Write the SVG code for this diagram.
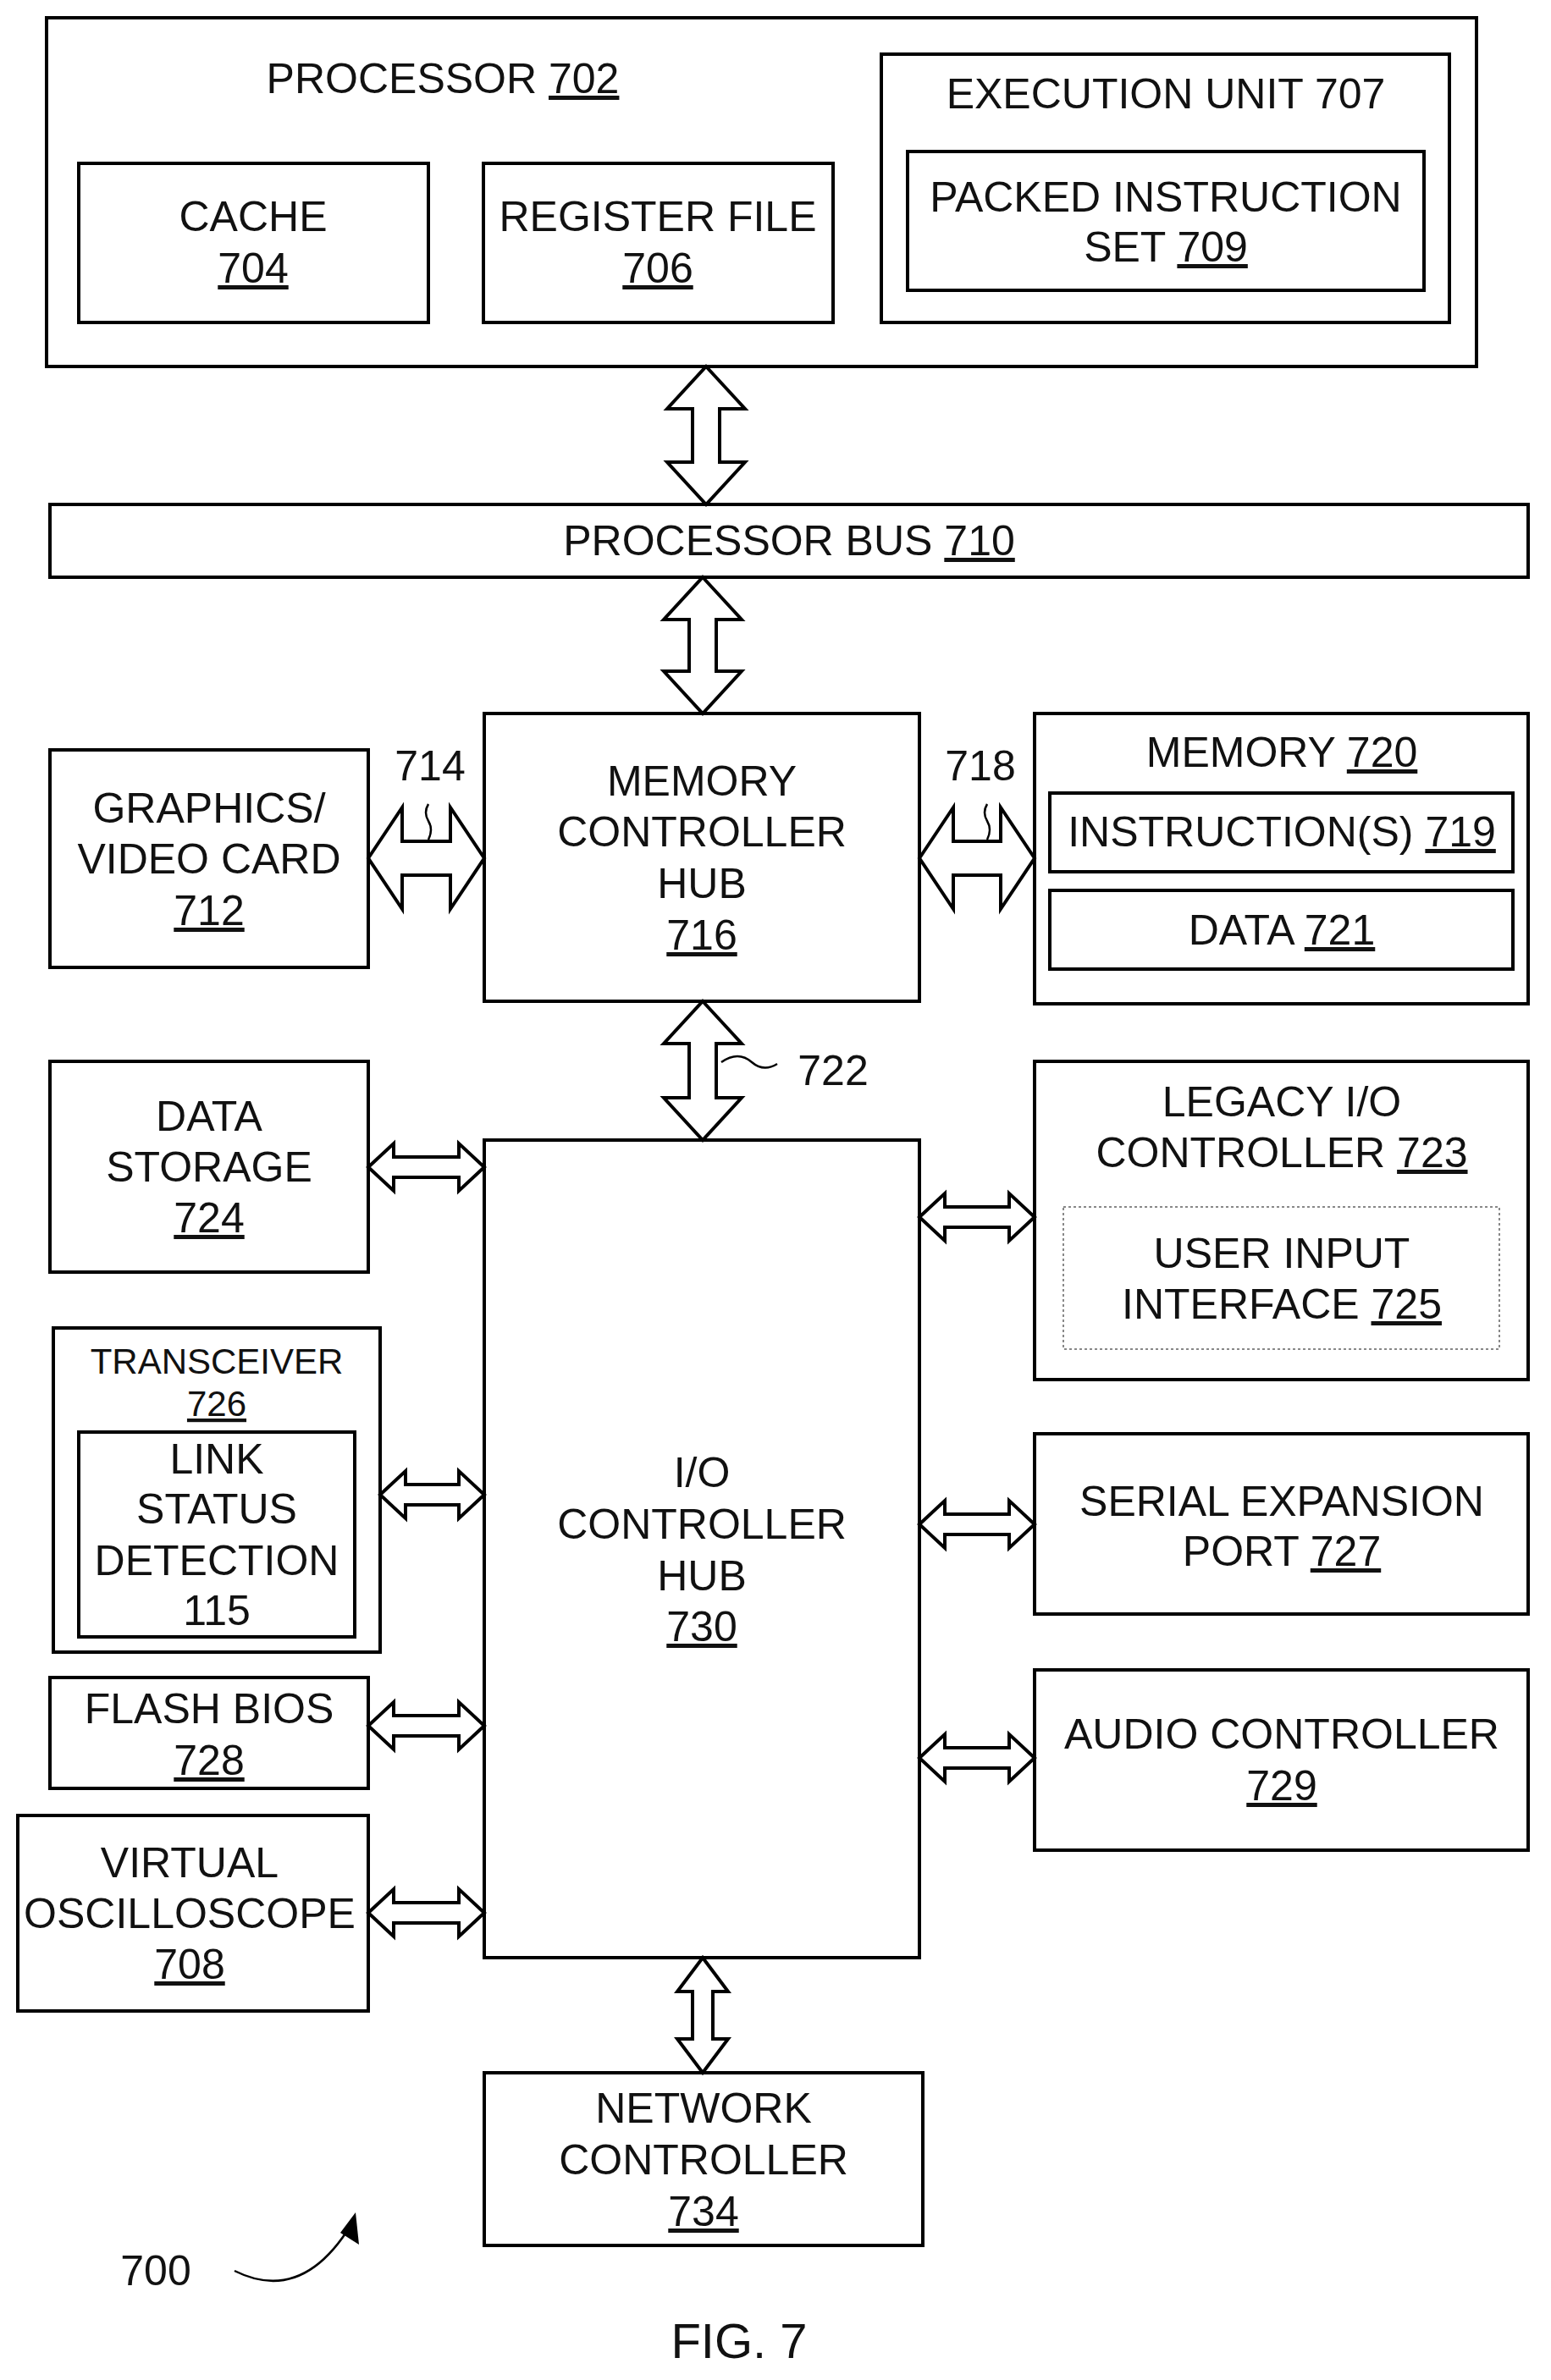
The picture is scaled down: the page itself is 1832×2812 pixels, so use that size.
<svg xmlns="http://www.w3.org/2000/svg" width="1832" height="2812" viewBox="0 0 1832 2812">
<style>
rect{fill:#fff;stroke:#000;stroke-width:4}
.dot{stroke:#888;stroke-width:2;stroke-dasharray:3 3}
text{font-family:"Liberation Sans",Arial,sans-serif;font-size:50px;text-anchor:middle;fill:#111}
.sm{font-size:42px}
.u{text-decoration:underline}
.ar{fill:#fff;stroke:#000;stroke-width:4;stroke-linejoin:miter}
.ln{fill:none;stroke:#000;stroke-width:2.5}
</style>
<rect width="1832" height="2812" style="fill:#fff;stroke:none"/>
<g id="processor"><rect x="55" y="21" width="1689" height="412"/><text x="523" y="110">PROCESSOR <tspan class="u">702</tspan></text></g>
<g id="cache"><rect x="93" y="193" width="413" height="188"/><text x="299" y="273">CACHE</text><text x="299" y="334" class="u">704</text></g>
<g id="regfile"><rect x="571" y="193" width="413" height="188"/><text x="777" y="273">REGISTER FILE</text><text x="777" y="334" class="u">706</text></g>
<g id="exec"><rect x="1041" y="64" width="671" height="317"/><text x="1377" y="128">EXECUTION UNIT 707</text></g>
<g id="packed"><rect x="1072" y="179" width="610" height="164"/><text x="1377" y="250">PACKED INSTRUCTION</text><text x="1377" y="309">SET <tspan class="u">709</tspan></text></g>
<g id="bus"><rect x="59" y="596" width="1746" height="86"/><text x="932" y="656">PROCESSOR BUS <tspan class="u">710</tspan></text></g>
<g id="mch"><rect x="572" y="843" width="514" height="340"/><text x="829" y="940">MEMORY</text><text x="829" y="1000">CONTROLLER</text><text x="829" y="1061">HUB</text><text x="829" y="1122" class="u">716</text></g>
<g id="graphics"><rect x="59" y="886" width="376" height="257"/><text x="247" y="972">GRAPHICS/</text><text x="247" y="1032">VIDEO CARD</text><text x="247" y="1093" class="u">712</text></g>
<g id="memory"><rect x="1222" y="843" width="583" height="343"/><text x="1514" y="906">MEMORY <tspan class="u">720</tspan></text></g>
<g id="instr"><rect x="1240" y="937" width="547" height="93"/><text x="1514" y="1000">INSTRUCTION(S) <tspan class="u">719</tspan></text></g>
<g id="data"><rect x="1240" y="1052" width="547" height="93"/><text x="1514" y="1116">DATA <tspan class="u">721</tspan></text></g>
<g id="ioch"><rect x="572" y="1347" width="514" height="966"/><text x="829" y="1757">I/O</text><text x="829" y="1818">CONTROLLER</text><text x="829" y="1879">HUB</text><text x="829" y="1939" class="u">730</text></g>
<g id="datastorage"><rect x="59" y="1254" width="376" height="249"/><text x="247" y="1336">DATA</text><text x="247" y="1396">STORAGE</text><text x="247" y="1456" class="u">724</text></g>
<g id="legacy"><rect x="1222" y="1254" width="583" height="376"/><text x="1514" y="1319">LEGACY I/O</text><text x="1514" y="1379">CONTROLLER <tspan class="u">723</tspan></text></g>
<g id="userinput"><rect x="1256" y="1426" width="515" height="168" class="dot"/><text x="1514" y="1498">USER INPUT</text><text x="1514" y="1558">INTERFACE <tspan class="u">725</tspan></text></g>
<g id="transceiver"><rect x="63" y="1569" width="386" height="383"/><text x="256" y="1623" class="sm">TRANSCEIVER</text><text x="256" y="1673" class="sm u">726</text></g>
<g id="link"><rect x="93" y="1692" width="326" height="242"/><text x="256" y="1741">LINK</text><text x="256" y="1800">STATUS</text><text x="256" y="1861">DETECTION</text><text x="256" y="1920">115</text></g>
<g id="serial"><rect x="1222" y="1694" width="583" height="213"/><text x="1514" y="1791">SERIAL EXPANSION</text><text x="1514" y="1850">PORT <tspan class="u">727</tspan></text></g>
<g id="flash"><rect x="59" y="1982" width="376" height="131"/><text x="247" y="2036">FLASH BIOS</text><text x="247" y="2097" class="u">728</text></g>
<g id="audio"><rect x="1222" y="1973" width="583" height="213"/><text x="1514" y="2066">AUDIO CONTROLLER</text><text x="1514" y="2127" class="u">729</text></g>
<g id="virtual"><rect x="21" y="2145" width="414" height="231"/><text x="224" y="2218">VIRTUAL</text><text x="224" y="2278">OSCILLOSCOPE</text><text x="224" y="2338" class="u">708</text></g>
<g id="network"><rect x="572" y="2449" width="518" height="204"/><text x="831" y="2508">NETWORK</text><text x="831" y="2569">CONTROLLER</text><text x="831" y="2630" class="u">734</text></g>
<g id="connectors">
<polygon class="ar" points="834,433 880,483 850,483 850,546 880,546 834,596 788,546 818,546 818,483 788,483"/>
<polygon class="ar" points="830,682 876,732 846,732 846,793 876,793 830,843 784,793 814,793 814,732 784,732"/>
<polygon class="ar" points="830,1183 876,1233 846,1233 846,1297 876,1297 830,1347 784,1297 814,1297 814,1233 784,1233"/>
<polygon class="ar" points="830,2313 860,2353 842,2353 842,2409 860,2409 830,2449 800,2409 818,2409 818,2353 800,2353"/>
<polygon class="ar" points="435,1014 475,954 475,994 532,994 532,954 572,1014 532,1074 532,1034 475,1034 475,1074"/>
<polygon class="ar" points="1086,1014 1126,954 1126,994 1182,994 1182,954 1222,1014 1182,1074 1182,1034 1126,1034 1126,1074"/>
<polygon class="ar" points="435,1379 465,1351 465,1367 542,1367 542,1351 572,1379 542,1407 542,1391 465,1391 465,1407"/>
<polygon class="ar" points="449,1766 479,1738 479,1754 542,1754 542,1738 572,1766 542,1794 542,1778 479,1778 479,1794"/>
<polygon class="ar" points="435,2039 465,2011 465,2027 542,2027 542,2011 572,2039 542,2067 542,2051 465,2051 465,2067"/>
<polygon class="ar" points="435,2260 465,2232 465,2248 542,2248 542,2232 572,2260 542,2288 542,2272 465,2272 465,2288"/>
<polygon class="ar" points="1086,1438 1116,1410 1116,1426 1192,1426 1192,1410 1222,1438 1192,1466 1192,1450 1116,1450 1116,1466"/>
<polygon class="ar" points="1086,1801 1116,1773 1116,1789 1192,1789 1192,1773 1222,1801 1192,1829 1192,1813 1116,1813 1116,1829"/>
<polygon class="ar" points="1086,2077 1116,2049 1116,2065 1192,2065 1192,2049 1222,2077 1192,2105 1192,2089 1116,2089 1116,2105"/>
<path class="ln" d="M506,950 q-6,10 0,20 q6,10 0,22"/>
<path class="ln" d="M1166,950 q-6,10 0,20 q6,10 0,22"/>
<path class="ln" d="M852,1255 q20,-14 36,0 q14,12 30,2"/>
<path class="ln" d="M277,2683 q80,40 138,-55"/>
<polygon points="420,2614 424,2652 402,2638" fill="#000"/>
</g>
<text x="508" y="922">714</text>
<text x="1158" y="922">718</text>
<text x="984" y="1282">722</text>
<text x="184" y="2700">700</text>
<text x="873" y="2786" style="font-size:58px">FIG. 7</text>
</svg>
